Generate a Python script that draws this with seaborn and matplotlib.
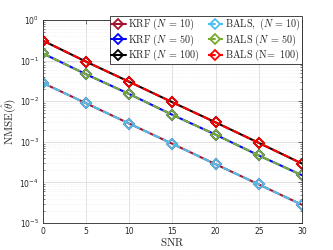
import numpy as np
import pandas as pd
import matplotlib
matplotlib.use("Agg")
import matplotlib.pyplot as plt
import seaborn as sns

# values
snr = [0, 5, 10, 15, 20, 25, 30]
krf_n10 = [0.028, 0.0089, 0.0028, 0.00089, 0.00028, 0.000089, 0.000028]
krf_n50 = [0.15, 0.046, 0.015, 0.0046, 0.0015, 0.00046, 0.00015]
krf_n100 = [0.31, 0.094, 0.030, 0.0094, 0.0030, 0.00094, 0.00029]
bals_n10 = [0.028, 0.0089, 0.0028, 0.00089, 0.00028, 0.000089, 0.000028]
bals_n50 = [0.15, 0.046, 0.015, 0.0046, 0.0015, 0.00046, 0.00015]
bals_n100 = [0.31, 0.094, 0.030, 0.0094, 0.0030, 0.00094, 0.00029]

sns.set_style("white")
plt.rcParams['mathtext.fontset'] = 'cm'
plt.rcParams['font.family'] = ['DejaVu Sans']

fig = plt.figure(figsize=(3.33, 2.5), dpi=100)
ax = fig.add_axes([0.129, 0.108, 0.778, 0.812])

series = [
    (r"$\mathrm{KRF}\ (N\,=\,10)$", krf_n10, "#A2142F", "-"),
    (r"$\mathrm{KRF}\ (N\,=\,50)$", krf_n50, "#0000FF", "-"),
    (r"$\mathrm{KRF}\ (N\,=\,100)$", krf_n100, "#000000", "-"),
    (r"$\mathrm{BALS,}\ (N\,=\,10)$", bals_n10, "#4DBEEE", "--"),
    (r"$\mathrm{BALS}\ (N\,=\,50)$", bals_n50, "#77AC30", "--"),
    (r"$\mathrm{BALS\ (N\!=\ 100)}$", bals_n100, "#FF0000", "--"),
]

for label, vals, col, ls in series:
    df = pd.DataFrame({"SNR": snr, "NMSE": vals})
    sns.lineplot(data=df, x="SNR", y="NMSE", ax=ax, color=col, linestyle=ls,
                 linewidth=1.5, marker="D", markersize=5.5, markerfacecolor="none",
                 markeredgecolor=col, markeredgewidth=1.3, label=label)

ax.set_yscale("log")
ax.set_xlim(0, 30)
ax.set_ylim(1e-5, 1)
ax.set_xticks([0, 5, 10, 15, 20, 25, 30])
ax.set_yticks([1e-5, 1e-4, 1e-3, 1e-2, 1e-1, 1])
ax.tick_params(axis="both", which="major", labelsize=5.5, colors="#262626",
               direction="in", length=3, width=0.5, top=True, right=True, pad=3)
ax.tick_params(axis="y", which="minor", direction="in", length=1.5, width=0.4,
               right=True, left=True)
ax.grid(True, which="major", color="#dcdcdc", linewidth=0.6)
ax.grid(True, which="minor", axis="y", color="#e6e6e6", linewidth=0.4, linestyle=":")
for sp in ax.spines.values():
    sp.set_color("#262626")
    sp.set_linewidth(0.6)

ax.set_xlabel(r"$\mathrm{SNR}$", fontsize=8, labelpad=0)
ax.set_ylabel(r"$\mathrm{NMSE}(\hat{\theta})$", fontsize=8, labelpad=1)

leg = ax.legend(ncol=2, loc="upper right", bbox_to_anchor=(1.0, 1.02),
                prop={"size": 7.3}, frameon=True,
                fancybox=False, edgecolor="#262626", framealpha=1,
                handlelength=1.5, columnspacing=0.8, handletextpad=0.2,
                labelspacing=0.0, borderpad=0.12, borderaxespad=0.0,
                handleheight=0.5, markerscale=0.9)
leg.get_frame().set_linewidth(0.6)

fig.savefig("out.png", dpi=100)
